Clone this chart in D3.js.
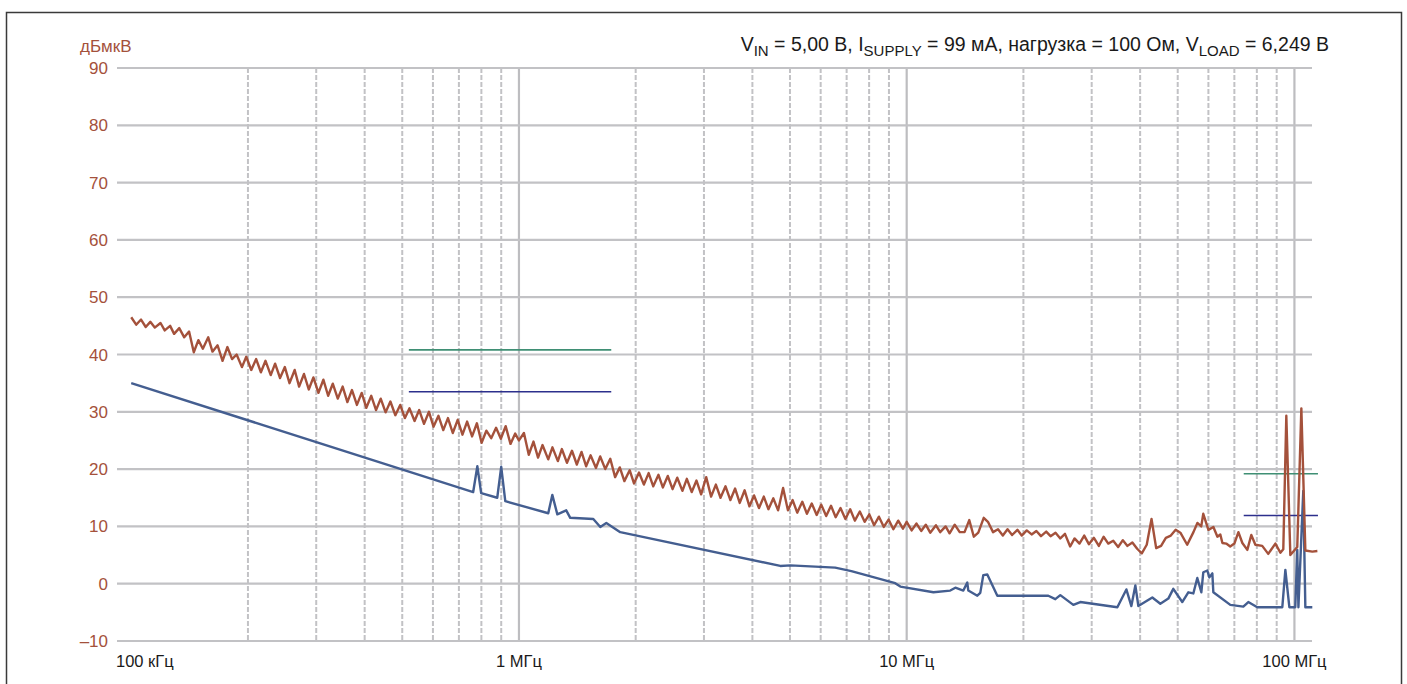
<!DOCTYPE html>
<html>
<head>
<meta charset="utf-8">
<script src="https://cdn.jsdelivr.net/npm/d3@7"></script>
<style>
  body { margin: 0; background: #fff; }
  text { font-family: "Liberation Sans", Arial, sans-serif; }
</style>
</head>
<body>
<div id="chart"></div>
<script>
// tick labels
var yTicks = [-10, 0, 10, 20, 30, 40, 50, 60, 70, 80, 90];
var xTicks = [0.1, 1, 10, 100];
var xTickLabels = ["100 кГц", "1 МГц", "10 МГц", "100 МГц"];
var majorGrid = [1, 10, 100];
var minorGrid = [0.2, 0.3, 0.4, 0.5, 0.6, 0.7, 0.8, 0.9,
                 2, 3, 4, 5, 6, 7, 8, 9,
                 20, 30, 40, 50, 60, 70, 80, 90];

// peak trace, [MHz, dBuV]
var peakTrace = [
  [0.100,46.5],[0.103,45.2],[0.106,46.1],[0.109,44.8],[0.112,45.7],[0.115,44.7],[0.119,45.5],[0.122,44.2],[0.126,45.0],
  [0.129,43.6],[0.133,44.6],[0.137,43.0],[0.141,44.0],[0.145,40.4],[0.149,42.5],[0.153,41.0],[0.158,43.0],[0.162,40.5],
  [0.167,41.6],[0.172,38.9],[0.177,41.3],[0.182,39.2],[0.187,40.0],[0.193,37.8],[0.198,39.6],[0.204,37.3],[0.210,39.2],
  [0.216,36.9],[0.222,38.9],[0.229,36.4],[0.235,38.4],[0.242,35.9],[0.249,37.8],[0.256,35.0],[0.264,37.3],[0.271,34.4],
  [0.279,36.6],[0.287,33.9],[0.295,36.0],[0.304,33.3],[0.313,35.6],[0.322,32.8],[0.331,34.9],[0.341,32.3],[0.351,34.4],
  [0.361,31.7],[0.371,33.8],[0.382,31.2],[0.393,33.3],[0.404,30.7],[0.416,32.8],[0.428,30.3],[0.440,32.3],[0.453,29.9],
  [0.466,31.8],[0.480,29.4],[0.494,31.2],[0.508,28.9],[0.522,30.6],[0.538,28.4],[0.553,30.3],[0.569,27.9],[0.586,30.0],
  [0.602,27.4],[0.620,29.3],[0.638,26.8],[0.656,28.9],[0.675,26.3],[0.695,28.6],[0.715,26.0],[0.735,28.3],[0.757,25.7],
  [0.779,28.0],[0.801,24.6],[0.824,26.7],[0.848,25.4],[0.873,27.2],[0.898,25.3],[0.924,27.5],[0.951,24.4],[0.978,26.2],
  [1.00,25.0],[1.03,26.3],[1.06,22.5],[1.09,24.8],[1.12,22.0],[1.15,24.2],[1.19,21.7],[1.22,23.8],[1.26,21.4],
  [1.29,23.5],[1.33,21.1],[1.37,23.2],[1.41,20.8],[1.45,23.0],[1.49,20.5],[1.53,22.4],[1.58,20.2],[1.62,22.2],
  [1.67,20.0],[1.72,21.8],[1.77,18.6],[1.82,20.3],[1.87,17.9],[1.93,19.8],[1.98,17.5],[2.04,19.4],[2.10,17.3],
  [2.16,19.3],[2.22,17.0],[2.29,19.0],[2.35,16.8],[2.42,18.8],[2.49,16.5],[2.56,18.5],[2.64,16.2],[2.71,18.3],
  [2.79,16.0],[2.87,18.0],[2.95,15.6],[3.04,18.6],[3.13,15.2],[3.22,17.3],[3.31,15.0],[3.41,17.0],[3.51,14.6],
  [3.61,16.6],[3.71,14.1],[3.82,16.3],[3.93,13.5],[4.04,15.4],[4.16,13.2],[4.28,15.2],[4.40,13.0],[4.53,14.9],
  [4.66,12.8],[4.80,16.7],[4.94,12.8],[5.08,14.6],[5.22,12.4],[5.38,14.3],[5.53,12.2],[5.69,14.0],[5.86,12.0],
  [6.02,13.8],[6.20,11.8],[6.38,13.6],[6.56,11.6],[6.75,13.2],[6.95,11.3],[7.15,13.0],[7.35,11.0],[7.57,12.6],
  [7.79,10.8],[8.01,12.1],[8.24,10.2],[8.48,11.7],[8.73,9.9],[8.98,11.2],[9.24,9.5],[9.51,11.0],[9.78,9.6],
  [10.0,10.8],[10.3,9.3],[10.6,10.5],[10.9,9.2],[11.2,10.3],[11.5,8.9],[11.9,10.2],[12.2,9.0],[12.6,10.0],
  [12.9,8.8],[13.3,10.3],[13.7,9.0],[14.1,9.0],[14.5,11.1],[14.9,8.2],[15.3,8.9],[15.8,11.5],[16.2,10.8],
  [16.7,9.0],[17.2,9.5],[17.7,8.4],[18.2,9.5],[18.7,8.5],[19.3,9.4],[19.8,8.4],[20.4,9.3],[21.0,8.6],
  [21.6,9.2],[22.2,8.3],[22.9,9.1],[23.5,8.3],[24.2,8.9],[24.9,7.9],[25.6,8.7],[26.4,6.5],[27.1,7.9],
  [27.9,7.0],[28.7,8.4],[29.5,6.9],[30.4,8.0],[31.3,6.6],[32.2,8.2],[33.1,7.0],[34.1,7.5],[35.1,6.4],
  [36.1,7.6],[37.1,6.6],[38.2,7.2],[39.3,6.1],[40.4,5.3],[41.6,6.8],[42.8,11.3],[44.0,6.2],[45.3,6.6],
  [46.6,8.0],[48.0,8.4],[49.4,9.4],[50.8,8.9],[52.9,6.8],[54.9,9.0],[56.2,10.6],[57.5,10.0],[58.2,12.2],
  [60.0,9.4],[61.8,9.9],[63.3,8.2],[64.4,8.6],[65.2,7.1],[66.7,7.0],[68.3,6.5],[70.0,7.0],[71.7,9.0],
  [73.4,7.1],[75.6,5.9],[77.4,8.5],[79.3,6.8],[82.6,6.6],[85.6,5.2],[89.3,7.0],[92.0,5.4],[93.6,6.0],
  [95.3,29.3],[97.6,5.0],[101.7,6.4],[104.2,30.6],[106.7,5.8],[111.2,5.6],[114.6,5.7]
];

// average trace, [MHz, dBuV]
var avgTrace = [
  [0.100,35.0],[0.762,16.0],[0.781,20.5],[0.799,15.8],[0.879,15.0],[0.900,20.4],[0.922,14.4],[1.190,12.3],
  [1.219,15.5],[1.256,12.1],[1.324,12.8],[1.356,11.5],[1.555,11.3],[1.621,9.9],[1.680,10.6],[1.825,9.0],
  [4.72,3.1],[5.01,3.2],[6.54,2.8],[7.20,2.2],[9.34,0.1],[9.63,-0.5],[11.72,-1.5],[12.95,-1.2],[13.35,-0.7],
  [14.00,-1.2],[14.33,0.2],[14.42,-1.2],[15.21,-2.1],[15.48,-1.6],[15.76,1.5],[16.14,1.6],[17.13,-2.1],
  [23.19,-2.1],[24.17,-2.7],[24.90,-2.0],[26.90,-3.7],[28.04,-3.2],[34.94,-4.1],[36.86,-1.0],[37.97,-3.9],
  [38.88,-0.3],[39.58,-3.9],[43.00,-2.4],[45.10,-3.5],[47.29,-2.6],[48.71,-0.9],[51.37,-3.2],[53.25,-1.5],
  [54.86,-1.7],[56.17,1.0],[57.53,-1.5],[58.21,2.0],[59.62,2.3],[60.34,1.1],[61.42,1.8],[61.78,-1.5],
  [68.34,-3.7],[73.82,-4.0],[76.05,-3.2],[80.21,-4.1],[93.06,-4.1],[94.76,2.4],[97.03,-4.1],[100.5,-4.1],
  [101.7,5.9],[102.4,-4.1],[105.4,16.2],[106.7,-4.1],[111.2,-4.1]
];

// limit segments: start MHz, end MHz, level
var peakLimit = [[0.52, 1.73, 40.8], [74, 115, 19.2]];
var avgLimit = [[0.52, 1.73, 33.5], [74, 115, 11.9]];

var red = "#a4513b", blue = "#445e90", green = "#3f8f74", navy = "#2c2f8c";

var svg = d3.select("#chart")
  .append("svg")
    .attr("width", 1407)
    .attr("height", 684);

// frame
svg.append("rect")
  .attr("x", 6.5).attr("y", 12.5)
  .attr("width", 1395).attr("height", 720)
  .attr("fill", "none")
  .attr("stroke", "#3a3a3a")
  .attr("stroke-width", 1.5);

var x = d3.scaleLog().domain([0.0919, 111]).range([117, 1312]);
var y = d3.scaleLinear().domain([-10, 90]).range([641, 68]);

// grid
svg.append("g").selectAll("line")
  .data(minorGrid)
  .enter().append("line")
    .attr("x1", d => x(d)).attr("x2", d => x(d))
    .attr("y1", y(90)).attr("y2", y(-10))
    .attr("stroke", "#c2c2c5")
    .attr("stroke-width", 2)
    .attr("stroke-dasharray", "5,2");

svg.append("g").selectAll("line")
  .data(majorGrid)
  .enter().append("line")
    .attr("x1", d => x(d)).attr("x2", d => x(d))
    .attr("y1", y(90)).attr("y2", y(-10))
    .attr("stroke", "#bdbdc0")
    .attr("stroke-width", 2.2);

svg.append("g").selectAll("line")
  .data(yTicks)
  .enter().append("line")
    .attr("x1", 117).attr("x2", 1312)
    .attr("y1", d => y(d)).attr("y2", d => y(d))
    .attr("stroke", "#c2c2c5")
    .attr("stroke-width", 2.2);

// y labels
svg.append("g").selectAll("text")
  .data(yTicks)
  .enter().append("text")
    .attr("x", 108)
    .attr("y", d => y(d) + 6)
    .attr("text-anchor", "end")
    .attr("font-size", "17px")
    .attr("fill", red)
    .text(d => d < 0 ? "\u2013" + Math.abs(d) : d);

svg.append("text")
  .attr("x", 80).attr("y", 52)
  .attr("font-size", "17px")
  .attr("fill", red)
  .text("дБмкВ");

// x labels
svg.append("g").selectAll("text")
  .data(xTicks)
  .enter().append("text")
    .attr("x", (d, i) => i === 0 ? 116 : x(d))
    .attr("y", 667)
    .attr("text-anchor", (d, i) => i === 0 ? "start" : "middle")
    .attr("font-size", "16.5px")
    .attr("fill", "#1a1a1a")
    .text((d, i) => xTickLabels[i]);

// title with subscripts
var title = svg.append("text")
  .attr("x", 1329).attr("y", 51)
  .attr("text-anchor", "end")
  .attr("font-size", "19.5px")
  .attr("fill", "#1a1a1a");
var parts = [["V", 0], ["IN", 1], [" = 5,00 В, I", 0], ["SUPPLY", 1],
             [" = 99 мА, нагрузка = 100 Ом, V", 0], ["LOAD", 1], [" = 6,249 В", 0]];
var shifted = false;
parts.forEach(p => {
  var dy = 0;
  if (p[1] && !shifted) { dy = 5; shifted = true; }
  if (!p[1] && shifted) { dy = -5; shifted = false; }
  title.append("tspan")
    .attr("font-size", p[1] ? "15px" : null)
    .attr("dy", dy)
    .text(p[0]);
});

// limits
function drawLimits(data, color) {
  svg.append("g").selectAll("line")
    .data(data)
    .enter().append("line")
      .attr("x1", d => x(d[0])).attr("x2", d => x(d[1]))
      .attr("y1", d => y(d[2])).attr("y2", d => y(d[2]))
      .attr("stroke", color)
      .attr("stroke-width", 1.6);
}
drawLimits(peakLimit, green);
drawLimits(avgLimit, navy);

// traces
var line = d3.line().x(d => x(d[0])).y(d => y(d[1]));

svg.append("path")
  .datum(avgTrace)
  .attr("d", line)
  .attr("fill", "none")
  .attr("stroke", blue)
  .attr("stroke-width", 2.4)
  .attr("stroke-linejoin", "round");

svg.append("path")
  .datum(peakTrace)
  .attr("d", line)
  .attr("fill", "none")
  .attr("stroke", red)
  .attr("stroke-width", 2.4)
  .attr("stroke-linejoin", "round");
</script>
</body>
</html>
